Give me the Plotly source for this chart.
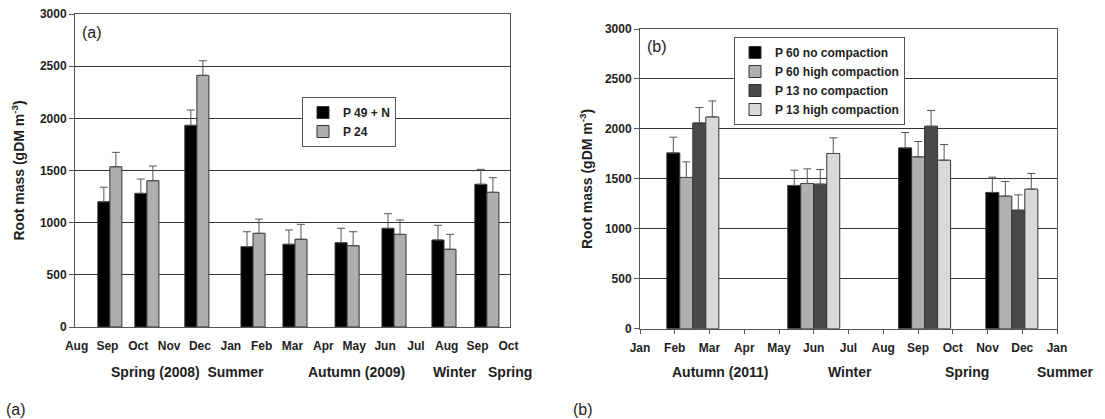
import plotly.graph_objects as go

# ---------------- Data ----------------
# Panel (a): sampling time in months after Aug 2008 (0 = Aug 2008)
months_a = ["Aug", "Sep", "Oct", "Nov", "Dec", "Jan", "Feb", "Mar", "Apr",
            "May", "Jun", "Jul", "Aug", "Sep", "Oct"]
sample_a = [1.08, 2.28, 3.90, 5.72, 7.08, 8.77, 10.29, 11.91, 13.30]
p49n = [1200, 1281, 1933, 770, 793, 808, 946, 834, 1368]
p49n_err = [140, 137, 147, 143, 137, 138, 140, 141, 143]
p24 = [1536, 1402, 2412, 898, 841, 779, 888, 745, 1291]
p24_err = [138, 141, 140, 137, 143, 134, 138, 143, 140]
seasons_a = ["Spring (2008)  Summer", "Autumn (2009)", "Winter", "Spring"]

# Panel (b): sampling time in months after Jan 2011 (0 = Jan 2011)
months_b = ["Jan", "Feb", "Mar", "Apr", "May", "Jun", "Jul", "Aug", "Sep",
            "Oct", "Nov", "Dec", "Jan"]
sample_b = [1.52, 5.00, 8.19, 10.70]
p60_no = [1760, 1434, 1810, 1364]
p60_no_err = [157, 153, 154, 153]
p60_high = [1514, 1454, 1720, 1327]
p60_high_err = [156, 146, 154, 147]
p13_no = [2060, 1447, 2027, 1187]
p13_no_err = [154, 147, 157, 153]
p13_high = [2120, 1754, 1687, 1397]
p13_high_err = [160, 156, 157, 157]
seasons_b = ["Autumn (2011)", "Winter", "Spring", "Summer"]

# ---------------- Layout helpers ----------------
W, H = 1105, 419
FONT = "Arial, Liberation Sans, sans-serif"
TXT = "#1e1e1e"


def px(x):
    return x / W


def py(y):
    return 1 - y / H


fig = go.Figure()

bw_a = 0.39
series_a = [
    ("P 49 + N", p49n, p49n_err, "#000000", -bw_a),
    ("P 24", p24, p24_err, "#AEAEAE", 0.0),
]
for name, vals, err, col, off in series_a:
    fig.add_trace(go.Bar(
        x=sample_a, y=vals, name=name, width=bw_a, offset=off,
        marker=dict(color=col, line=dict(color="#333333", width=1)),
        error_y=dict(type="data", array=err, arrayminus=[0] * len(err),
                     symmetric=False, color="#555555", thickness=1, width=4),
        xaxis="x", yaxis="y", legend="legend",
    ))

bw_b = 0.374
series_b = [
    ("P 60 no compaction", p60_no, p60_no_err, "#000000", -2 * bw_b),
    ("P 60 high compaction", p60_high, p60_high_err, "#B0B0B0", -bw_b),
    ("P 13 no compaction", p13_no, p13_no_err, "#494949", 0.0),
    ("P 13 high compaction", p13_high, p13_high_err, "#D9D9D9", bw_b),
]
for name, vals, err, col, off in series_b:
    fig.add_trace(go.Bar(
        x=sample_b, y=vals, name=name, width=bw_b, offset=off,
        marker=dict(color=col, line=dict(color="#333333", width=1)),
        error_y=dict(type="data", array=err, arrayminus=[0] * len(err),
                     symmetric=False, color="#555555", thickness=1, width=4),
        xaxis="x2", yaxis="y2", legend="legend2",
    ))

tickfont = dict(family=FONT, size=12, color=TXT, weight="bold")
yax_common = dict(
    range=[0, 3000], dtick=500, tick0=0, showgrid=True, gridcolor="#333333",
    gridwidth=1, showline=True, mirror=True, linecolor="#555555", linewidth=1,
    ticks="outside", ticklen=5, tickcolor="#555555", zeroline=False,
    tickfont=tickfont, fixedrange=True,
)

fig.update_layout(
    width=W, height=H,
    margin=dict(l=0, r=0, t=0, b=0, autoexpand=False),
    paper_bgcolor="white", plot_bgcolor="white",
    barmode="overlay",
    font=dict(family=FONT, color=TXT),
    xaxis=dict(
        domain=[px(75), px(510)], range=[-0.05, 14.05],
        tickmode="array", tickvals=list(range(len(months_a))), ticktext=months_a,
        showgrid=False, showline=True, mirror=True, linecolor="#555555",
        ticks="", zeroline=False, tickfont=tickfont, ticklabelstandoff=8,
        anchor="y", fixedrange=True,
    ),
    yaxis=dict(domain=[py(327), py(14)], anchor="x", **yax_common),
    xaxis2=dict(
        domain=[px(640), px(1057)], range=[0, 12],
        tickmode="array", tickvals=list(range(len(months_b))), ticktext=months_b,
        showgrid=False, showline=True, mirror=True, linecolor="#555555",
        ticks="outside", ticklen=4, tickcolor="#555555", zeroline=False,
        tickfont=tickfont, ticklabelstandoff=4, anchor="y2", fixedrange=True,
    ),
    yaxis2=dict(domain=[py(328.7), py(29)], anchor="x2", **yax_common),
    legend=dict(
        x=px(302), y=py(97), xanchor="left", yanchor="top",
        bgcolor="white", bordercolor="#555555", borderwidth=1,
        font=dict(family=FONT, size=12, color=TXT, weight="bold"),
        tracegroupgap=0, itemwidth=30,
    ),
    legend2=dict(
        x=px(734), y=py(37), xanchor="left", yanchor="top",
        bgcolor="white", bordercolor="#555555", borderwidth=1,
        font=dict(family=FONT, size=12, color=TXT, weight="bold"),
        tracegroupgap=0, itemwidth=30,
    ),
    showlegend=True,
)

ann = []
ytitle = "Root mass (gDM m<sup>-3</sup>)"
for xc, yc in [(19, 170.5), (586, 179)]:
    ann.append(dict(x=px(xc), y=py(yc), xref="paper", yref="paper", text=ytitle,
                    textangle=-90, showarrow=False, xanchor="center", yanchor="middle",
                    font=dict(family=FONT, size=14, color=TXT, weight="bold")))

season_x_a = [187, 356, 454.5, 509.5]
for t, xc in zip(seasons_a, season_x_a):
    ann.append(dict(x=px(xc), y=py(372), xref="paper", yref="paper", text=t,
                    showarrow=False, xanchor="center", yanchor="middle",
                    font=dict(family=FONT, size=14, color=TXT, weight="bold")))
season_x_b = [720, 850, 966.5, 1065]
for t, xc in zip(seasons_b, season_x_b):
    ann.append(dict(x=px(xc), y=py(372), xref="paper", yref="paper", text=t,
                    showarrow=False, xanchor="center", yanchor="middle",
                    font=dict(family=FONT, size=14, color=TXT, weight="bold")))

for t, xc, yc in [("(a)", 92, 32), ("(b)", 657, 46.5), ("(a)", 16, 409), ("(b)", 583, 409)]:
    ann.append(dict(x=px(xc), y=py(yc), xref="paper", yref="paper", text=t,
                    showarrow=False, xanchor="center", yanchor="middle",
                    font=dict(family=FONT, size=16, color=TXT)))

fig.update_layout(annotations=ann)

fig.write_html(
    "out.html",
    config={"displayModeBar": False},
    post_script="document.body.style.margin='0';document.body.style.overflow='hidden';",
)
